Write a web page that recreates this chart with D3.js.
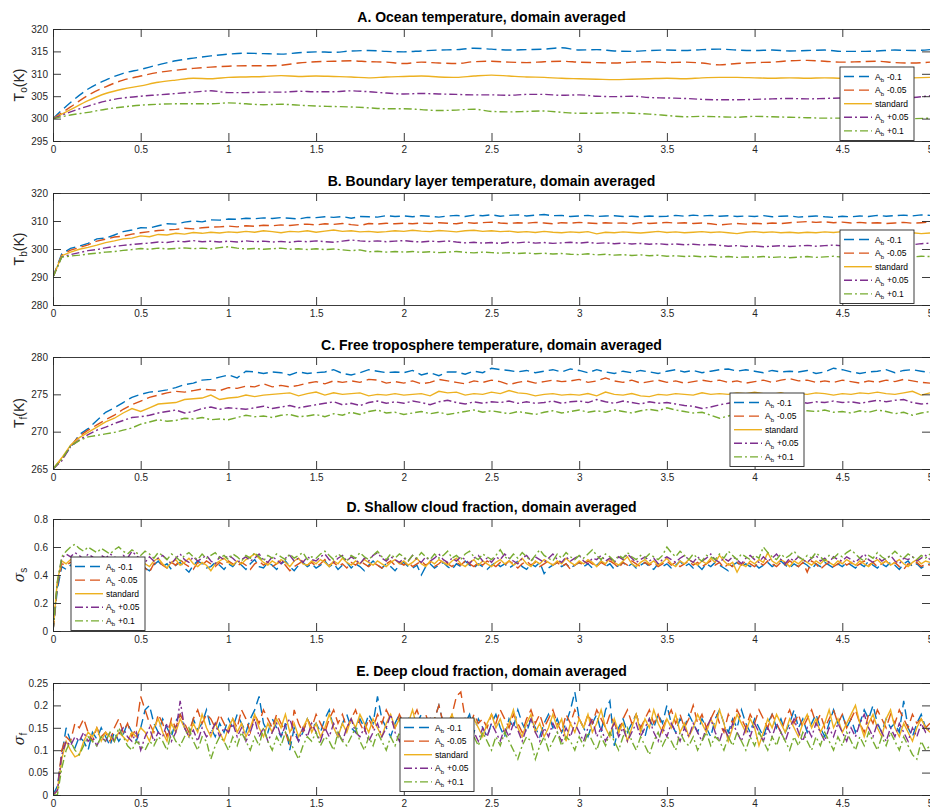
<!DOCTYPE html>
<html>
<head>
<meta charset="utf-8">
<script src="https://cdn.jsdelivr.net/npm/d3@7"></script>
<style>
  body { margin: 0; background: #fff; }
  svg { display: block; font-family: "Liberation Sans", Arial, Helvetica, sans-serif; }
</style>
</head>
<body>
<svg id="chart" width="930" height="808"></svg>
<script>
// ---- data ----
const xTicks = [0, 0.5, 1, 1.5, 2, 2.5, 3, 3.5, 4, 4.5, 5];
const seriesLabels = ["-0.1", "-0.05", "standard", "+0.05", "+0.1"];

const titles = [
  "A. Ocean temperature, domain averaged",
  "B. Boundary layer temperature, domain averaged",
  "C. Free troposphere temperature, domain averaged",
  "D. Shallow cloud fraction, domain averaged",
  "E. Deep cloud fraction, domain averaged"
];
const yTicksA = [295, 300, 305, 310, 315, 320];
const yTicksB = [280, 290, 300, 310, 320];
const yTicksC = [265, 270, 275, 280];
const yTicksD = [0, 0.2, 0.4, 0.6, 0.8];
const yTicksE = [0, 0.05, 0.1, 0.15, 0.2, 0.25];

// sampling step (time units) of each panel's series
const stepA = 0.1, stepB = 0.05, stepC = 0.05, stepD = 0.025, stepE = 0.025;

// A. ocean temperature (K), every 0.1
const oceanM10 = [300.0,303.6,306.6,308.6,310.1,311.0,312.0,312.9,313.5,314.0,
  314.4,314.6,314.5,314.4,314.7,314.9,314.8,315.1,315.2,315.0,
  314.9,315.1,315.3,315.4,315.7,315.5,315.3,315.4,315.5,315.8,
  315.3,315.4,315.1,315.0,315.2,315.3,315.2,315.4,315.5,315.3,
  315.2,315.3,315.1,315.2,315.3,315.0,315.0,315.1,315.3,315.2,315.4];
const oceanM05 = [300.0,302.6,305.2,307.1,308.6,309.5,310.3,310.8,311.2,311.5,
  311.7,311.8,311.8,311.9,312.4,312.7,312.8,312.9,312.7,312.6,
  312.3,312.6,312.4,312.3,312.7,312.8,312.6,312.5,312.7,312.8,
  312.6,312.5,312.4,312.6,312.7,312.5,312.6,312.4,312.0,312.3,
  312.5,312.6,312.9,313.0,312.8,312.6,312.7,312.8,312.5,312.4,312.6];
const oceanStd = [300.0,302.0,304.0,305.6,306.6,307.3,308.1,308.6,309.0,308.9,
  309.2,309.3,309.4,309.6,309.4,309.5,309.4,309.3,309.1,309.3,
  309.4,309.5,309.3,309.2,309.5,309.7,309.5,309.3,309.2,309.0,
  308.9,308.8,308.7,308.8,308.9,309.0,308.9,309.1,309.2,309.2,
  309.1,309.0,309.1,309.0,309.1,309.0,309.1,309.2,309.0,309.1,309.2];
const oceanP05 = [300.0,301.5,302.8,303.9,304.6,305.0,305.3,305.6,305.9,306.2,
  305.8,305.8,305.9,305.9,306.1,306.0,306.0,306.2,306.0,305.7,
  305.5,305.6,305.5,305.4,305.3,305.3,305.2,305.4,305.4,305.2,
  305.3,305.0,304.9,305.0,304.7,304.6,304.5,304.3,304.2,304.2,
  304.3,304.4,304.5,304.4,304.5,304.6,304.5,304.4,304.5,304.7,305.1];
const oceanP10 = [300.0,300.8,301.4,302.1,302.6,303.0,303.2,303.3,303.3,303.3,
  303.5,303.3,303.1,303.2,303.0,302.8,302.7,302.6,302.4,302.2,
  302.2,302.0,301.8,301.9,302.1,301.6,301.5,301.6,301.7,301.4,
  301.2,301.2,301.3,301.2,301.0,300.7,300.4,300.5,300.4,300.3,
  300.5,300.4,300.3,300.2,300.1,300.1,300.0,300.1,300.2,300.0,300.1];

// B. boundary layer temperature (K), every 0.05
const blM10 = [290.0,298.3,300.2,301.0,302.0,303.6,303.9,305.0,306.2,306.8,307.6,307.5,308.3,309.0,308.9,309.6,310.0,309.7,310.4,310.3,
  310.7,310.6,311.0,310.8,311.1,310.9,311.2,311.0,310.7,311.3,311.2,311.5,311.3,311.6,311.0,311.6,311.5,311.4,311.9,311.6,
  311.8,311.5,311.9,311.7,311.4,311.8,312.0,311.6,312.1,311.9,312.2,311.7,312.0,312.2,311.8,312.1,312.3,311.9,312.0,311.6,
  311.8,312.0,311.6,311.8,311.9,311.6,311.7,311.5,311.8,311.6,311.7,312.0,311.7,312.1,311.8,312.0,311.7,311.9,311.6,311.8,
  311.6,311.9,311.5,311.7,311.8,311.4,311.6,311.8,311.5,311.3,311.7,311.5,311.8,311.6,312.0,311.7,311.9,312.1,311.8,312.2,312.0];
const blM05 = [290.0,297.8,299.6,300.5,301.5,302.8,303.5,304.3,304.6,305.3,305.8,306.2,306.6,306.8,307.0,307.4,307.2,307.6,307.8,307.9,
  308.2,307.9,308.3,308.1,308.5,308.3,308.6,308.4,308.7,308.9,308.6,309.0,308.8,309.1,308.7,308.4,309.1,308.9,309.2,309.0,
  309.2,309.0,309.3,309.1,309.4,309.2,309.0,309.5,309.2,309.4,309.6,309.3,309.1,309.4,309.2,309.5,309.3,309.0,309.4,309.2,
  309.5,309.3,309.1,309.4,309.2,309.3,309.0,309.4,309.1,309.3,309.5,309.2,309.4,309.1,309.3,309.0,308.6,308.9,309.1,308.9,
  309.2,309.0,309.3,309.1,309.4,309.6,309.8,309.5,309.7,309.4,309.6,309.3,309.5,309.2,309.4,309.1,309.3,309.5,309.2,309.4,309.6];
const blStd = [290.0,297.6,298.9,299.9,300.6,301.4,302.3,302.9,303.6,303.9,304.7,304.4,305.2,305.0,305.6,305.3,305.9,305.6,306.0,305.7,
  306.1,305.9,306.3,306.0,306.5,306.2,305.8,306.3,306.1,306.5,306.0,306.4,306.8,306.3,306.5,306.1,306.3,306.0,306.2,306.5,
  306.3,306.7,306.4,306.2,306.6,306.4,306.1,306.5,306.7,306.3,306.5,306.2,306.4,306.0,306.2,305.9,306.3,306.0,305.8,306.1,
  305.9,306.2,305.4,306.0,305.8,306.1,305.9,305.7,306.0,306.3,305.9,306.1,305.8,306.0,306.2,305.9,306.1,305.8,305.5,306.0,
  306.2,305.9,306.1,305.8,306.0,305.7,306.0,305.8,306.1,305.9,306.2,305.9,306.1,305.8,306.0,305.7,305.9,305.6,305.8,305.5,305.7];
const blP05 = [290.0,297.2,298.0,298.7,299.4,299.8,300.4,300.9,301.3,301.6,301.9,302.1,302.5,302.3,302.8,302.6,303.0,302.6,302.8,302.5,
  302.8,302.5,302.9,302.6,302.8,302.5,302.7,302.4,302.8,302.6,302.9,302.6,302.4,302.8,303.2,302.9,302.7,302.9,302.6,302.8,
  303.0,302.7,302.5,302.8,302.6,302.9,302.5,302.2,302.4,302.1,302.3,302.0,302.4,302.2,302.5,302.1,302.3,302.0,302.2,302.4,
  302.1,302.4,302.0,302.2,301.9,302.1,301.8,302.0,301.7,301.9,301.6,301.8,301.5,301.7,301.4,301.6,301.3,301.0,301.2,300.9,
  301.1,300.8,301.0,301.2,300.9,301.1,301.3,301.0,301.2,301.4,301.1,301.3,301.0,301.2,301.5,301.3,301.6,301.8,301.5,301.9,302.1];
const blP10 = [290.0,297.1,297.5,297.8,298.2,298.5,298.9,299.1,299.5,299.8,300.2,299.9,300.3,300.0,300.2,300.4,300.1,300.3,300.0,300.5,
  300.8,300.3,300.0,300.2,299.9,300.1,300.3,299.9,300.1,299.8,300.1,299.8,300.0,299.7,299.4,299.7,299.0,299.2,298.9,299.1,
  298.9,299.1,298.8,299.0,298.7,298.9,299.1,298.8,298.6,298.9,298.7,298.5,298.7,298.4,298.6,298.3,298.5,298.2,298.4,298.1,
  298.0,298.3,297.9,298.1,297.8,298.0,297.7,297.9,297.6,297.8,297.4,297.6,297.3,297.5,297.2,297.4,297.1,297.3,297.0,297.2,
  297.1,297.3,297.0,297.2,296.9,297.1,297.3,297.0,297.2,297.4,297.1,297.3,297.0,297.2,297.4,297.1,297.3,297.0,297.2,297.4,297.3];

// C. free troposphere temperature (K), every 0.05
const ftM10 = [265.0,266.4,267.9,269.6,270.4,271.5,272.6,273.2,273.9,274.6,275.0,275.3,275.4,275.6,275.9,276.3,276.5,276.9,277.0,277.3,
  277.6,277.2,278.1,278.0,277.8,278.0,277.9,277.6,278.0,277.8,277.9,278.0,278.3,277.8,277.6,277.9,278.3,278.1,277.9,278.0,
  277.9,278.2,277.6,277.9,277.5,278.0,278.0,277.7,278.1,277.9,278.5,278.3,278.2,278.0,278.2,277.9,278.1,278.3,278.0,278.4,
  278.2,277.9,278.3,278.0,277.8,278.1,277.9,278.2,278.0,277.8,278.1,278.3,278.0,278.2,277.9,278.1,278.3,278.4,278.1,278.3,
  278.1,277.9,278.2,278.0,278.1,278.0,278.2,277.8,278.0,278.5,278.3,278.0,277.8,278.0,278.1,278.3,277.9,278.2,278.3,278.1,277.9];
const ftM05 = [265.0,266.3,268.1,269.4,270.2,270.9,271.6,272.2,273.0,273.6,274.1,274.6,274.9,275.2,275.4,275.3,275.5,275.7,275.6,275.5,
  275.9,275.8,276.1,276.0,276.4,276.0,276.2,276.0,276.2,276.5,276.7,276.4,276.8,276.6,276.8,276.6,277.0,276.9,276.5,276.7,
  276.5,276.8,276.4,276.6,277.0,276.8,276.6,276.4,276.8,276.6,276.9,276.7,276.3,276.6,276.8,276.5,276.7,276.9,276.7,276.8,
  277.0,276.6,276.8,277.2,276.8,276.6,276.9,276.5,276.7,276.9,276.6,276.8,276.5,276.7,276.9,276.7,276.9,276.6,276.8,276.5,
  276.7,276.9,276.6,276.9,277.1,276.8,276.9,276.6,276.8,276.6,276.9,276.7,276.5,276.8,276.6,276.9,276.7,277.0,276.8,276.6,276.5];
const ftStd = [265.0,266.5,268.2,269.2,269.9,270.6,271.3,271.8,272.5,273.1,272.7,273.2,273.7,273.8,273.9,274.3,274.4,274.5,274.9,274.3,
  274.5,274.6,274.9,274.7,274.9,275.0,275.1,275.2,274.8,275.1,275.3,274.9,275.2,275.0,275.1,275.2,274.8,275.0,274.9,275.1,
  274.9,275.0,275.1,274.8,275.4,275.2,275.3,274.9,275.1,275.0,275.3,275.1,275.5,275.2,275.1,274.8,275.0,275.1,274.9,275.0,
  274.9,275.1,274.8,275.3,275.0,274.9,275.1,274.8,274.7,275.0,274.9,275.1,275.0,274.9,275.2,275.0,275.1,275.0,275.2,275.1,
  275.3,275.1,275.0,275.2,274.9,275.1,275.0,275.2,275.1,274.9,275.1,275.0,275.2,275.1,275.3,275.1,275.0,275.2,275.4,274.9,275.2];
const ftP05 = [265.0,266.1,268.0,268.9,269.6,270.2,270.6,271.1,271.5,271.9,272.0,272.2,272.5,272.7,272.9,272.5,272.7,273.1,273.3,273.0,
  273.2,273.1,273.0,273.2,273.4,273.1,273.3,273.5,273.2,273.4,273.6,273.8,274.0,273.6,273.8,273.5,273.9,274.1,273.8,274.0,
  273.8,274.1,273.9,273.6,274.0,274.2,273.9,273.7,274.0,273.8,274.0,273.9,274.1,273.8,274.0,273.8,273.9,274.1,273.8,274.0,
  274.1,273.9,274.3,274.0,273.8,274.1,273.9,273.7,274.0,273.8,273.9,273.7,273.5,273.4,273.1,273.3,273.6,273.8,274.0,273.8,
  273.9,274.1,273.8,274.0,273.9,274.1,273.8,274.0,273.9,274.1,273.9,274.0,273.8,274.0,274.2,274.0,274.2,274.3,273.9,273.7,273.8];
const ftP10 = [265.0,266.3,268.1,268.8,269.3,269.5,269.7,269.9,270.2,270.5,271.0,271.3,271.6,271.4,271.5,271.8,271.7,271.9,271.6,271.7,
  271.6,271.9,272.2,272.0,272.1,271.9,272.2,272.3,272.0,272.1,272.3,272.0,272.4,272.2,272.6,272.3,272.7,272.9,272.5,272.6,
  272.3,272.5,272.7,272.4,272.6,272.3,272.5,272.7,272.9,272.6,272.8,272.6,272.4,272.7,272.5,272.3,272.6,272.8,272.5,272.7,
  272.9,272.6,272.8,272.6,272.9,272.7,272.5,272.8,273.0,272.8,273.2,272.9,272.7,272.5,272.6,272.2,271.8,272.1,272.4,272.6,
  272.8,272.6,272.9,272.7,272.9,272.6,272.8,272.7,272.9,272.6,272.7,272.5,272.8,272.6,272.9,272.7,272.4,272.6,272.2,272.5,272.7];

// D. shallow cloud fraction, every 0.025
const scM10 = [0,.30,.46,.44,.47,.45,.49,.46,.43,.48,.47,.50,.46,.45,.48,.51,.47,.44,.49,.46,
  .48,.45,.43,.47,.50,.46,.48,.44,.47,.49,.45,.42,.47,.50,.48,.45,.46,.49,.47,.44,
  .48,.46,.50,.47,.44,.48,.51,.46,.45,.49,.47,.44,.48,.50,.46,.43,.47,.49,.46,.48,
  .45,.47,.50,.46,.48,.44,.47,.49,.45,.48,.46,.43,.47,.50,.47,.45,.48,.46,.43,.47,
  .49,.46,.45,.47,.40,.46,.48,.45,.47,.49,.46,.44,.48,.46,.50,.47,.45,.48,.46,.44,
  .47,.49,.46,.48,.45,.47,.50,.46,.44,.48,.46,.49,.41,.45,.47,.49,.46,.48,.45,.47,
  .49,.46,.48,.45,.47,.50,.46,.48,.44,.47,.49,.46,.48,.45,.47,.49,.46,.44,.48,.46,
  .48,.45,.47,.50,.46,.48,.45,.47,.44,.48,.46,.49,.47,.45,.43,.47,.49,.46,.48,.46,
  .48,.45,.47,.49,.46,.48,.50,.47,.45,.48,.46,.49,.47,.44,.48,.46,.49,.47,.45,.48,
  .46,.49,.47,.45,.48,.46,.50,.47,.45,.48,.46,.49,.47,.44,.48,.50,.46,.48,.45,.47,.48];
const scM05 = [0,.33,.48,.47,.49,.50,.48,.46,.50,.49,.47,.51,.48,.46,.49,.47,.50,.48,.46,.49,
  .47,.45,.42,.48,.50,.47,.45,.49,.47,.51,.48,.46,.44,.49,.47,.50,.48,.46,.49,.47,
  .50,.48,.46,.49,.47,.44,.48,.50,.47,.49,.46,.48,.50,.47,.43,.46,.48,.50,.47,.49,
  .46,.48,.51,.47,.49,.46,.48,.45,.49,.47,.50,.48,.46,.49,.47,.45,.48,.50,.47,.49,
  .47,.49,.46,.48,.50,.47,.49,.46,.48,.51,.48,.46,.49,.47,.50,.48,.46,.49,.47,.50,
  .48,.46,.49,.47,.50,.48,.45,.48,.50,.47,.49,.46,.48,.50,.47,.49,.46,.48,.44,.47,
  .49,.47,.50,.48,.46,.49,.47,.50,.48,.45,.49,.47,.50,.48,.46,.49,.47,.49,.46,.48,
  .50,.47,.49,.46,.48,.50,.47,.49,.46,.48,.50,.47,.49,.45,.48,.46,.49,.47,.50,.48,
  .46,.49,.47,.50,.48,.46,.49,.47,.50,.48,.46,.49,.42,.50,.48,.44,.47,.49,.46,.48,
  .50,.47,.49,.46,.48,.50,.47,.49,.46,.48,.50,.47,.49,.46,.44,.48,.47,.49,.46,.48,.47];
const scStd = [0,.36,.50,.48,.51,.49,.47,.50,.52,.49,.47,.50,.48,.51,.49,.47,.50,.48,.46,.49,
  .51,.48,.46,.50,.52,.48,.45,.49,.51,.47,.49,.52,.48,.46,.49,.47,.43,.48,.50,.52,
  .49,.47,.50,.48,.51,.53,.55,.52,.49,.47,.50,.48,.51,.49,.46,.50,.52,.48,.47,.50,
  .48,.51,.49,.46,.50,.48,.52,.49,.47,.50,.48,.51,.49,.47,.50,.48,.46,.49,.51,.48,
  .50,.47,.49,.52,.48,.46,.50,.48,.51,.49,.47,.50,.52,.48,.46,.49,.51,.47,.50,.48,
  .46,.49,.51,.48,.50,.47,.49,.52,.48,.46,.50,.48,.51,.49,.47,.50,.48,.52,.49,.47,
  .50,.48,.51,.49,.46,.50,.48,.52,.49,.47,.50,.53,.48,.46,.49,.51,.48,.50,.47,.49,
  .52,.48,.46,.50,.48,.51,.49,.47,.50,.48,.52,.49,.54,.50,.47,.49,.42,.48,.46,.50,
  .48,.51,.49,.56,.50,.48,.51,.49,.46,.50,.48,.51,.49,.47,.50,.48,.51,.49,.47,.50,
  .48,.51,.49,.47,.50,.48,.46,.49,.51,.48,.50,.47,.49,.51,.48,.46,.49,.51,.48,.50,.49];
const scP05 = [0,.34,.52,.55,.53,.56,.54,.51,.55,.53,.50,.54,.52,.55,.53,.51,.54,.52,.57,.54,
  .51,.49,.53,.50,.52,.54,.51,.48,.52,.55,.51,.49,.53,.50,.52,.54,.50,.48,.53,.51,
  .54,.52,.49,.51,.53,.50,.52,.55,.51,.49,.53,.51,.48,.52,.54,.50,.52,.49,.53,.51,
  .50,.53,.55,.51,.49,.52,.54,.50,.53,.51,.48,.52,.50,.54,.56,.52,.50,.53,.51,.49,
  .52,.50,.54,.51,.49,.53,.50,.52,.55,.51,.49,.52,.50,.53,.51,.48,.52,.54,.50,.52,
  .49,.53,.51,.55,.52,.50,.48,.52,.54,.50,.53,.51,.49,.52,.55,.51,.49,.53,.50,.52,
  .54,.50,.48,.52,.51,.54,.50,.52,.49,.53,.51,.55,.52,.49,.51,.53,.50,.52,.48,.51,
  .53,.51,.49,.52,.54,.51,.49,.53,.50,.52,.55,.51,.49,.52,.50,.53,.51,.48,.52,.54,
  .51,.49,.53,.50,.52,.55,.51,.48,.52,.50,.53,.51,.49,.52,.54,.50,.52,.49,.53,.51,
  .50,.53,.51,.49,.52,.55,.51,.49,.53,.50,.52,.54,.50,.48,.52,.51,.53,.50,.52,.54,.51];
const scP10 = [0,.35,.53,.57,.60,.62,.59,.57,.60,.58,.56,.59,.57,.55,.58,.60,.57,.55,.58,.56,
  .54,.57,.55,.52,.56,.54,.51,.55,.53,.50,.54,.56,.53,.51,.55,.52,.54,.56,.52,.54,
  .51,.55,.53,.50,.54,.52,.56,.53,.50,.54,.52,.55,.53,.51,.55,.52,.54,.56,.51,.53,
  .52,.55,.57,.54,.51,.55,.53,.50,.54,.52,.56,.53,.51,.54,.57,.53,.51,.55,.52,.55,
  .53,.50,.54,.52,.56,.53,.51,.55,.52,.54,.57,.52,.54,.51,.55,.57,.53,.51,.55,.53,
  .51,.54,.58,.53,.51,.55,.52,.56,.53,.50,.54,.58,.54,.52,.50,.55,.52,.56,.53,.51,
  .54,.52,.55,.58,.54,.51,.55,.53,.50,.54,.52,.56,.53,.51,.54,.52,.55,.53,.51,.54,
  .60,.56,.53,.57,.54,.51,.55,.52,.50,.54,.53,.51,.55,.52,.57,.54,.51,.55,.53,.51,
  .54,.52,.60,.56,.53,.51,.55,.52,.54,.57,.53,.51,.54,.52,.56,.53,.50,.54,.52,.55,
  .53,.56,.58,.55,.52,.50,.54,.52,.56,.53,.51,.54,.57,.54,.52,.55,.53,.51,.54,.52,.55];

// E. deep cloud fraction, every 0.025
const dcM10 = [0,.02,.09,.15,.12,.105,.13,.12,.10,.14,.125,.15,.13,.11,.14,.12,.135,.16,.14,.12,
  .15,.19,.20,.16,.14,.17,.15,.13,.165,.18,.15,.13,.17,.145,.16,.19,.15,.13,.16,.14,
  .17,.15,.18,.16,.14,.17,.19,.22,.16,.14,.17,.15,.13,.16,.10,.15,.12,.14,.17,.15,
  .16,.14,.17,.19,.15,.13,.16,.18,.15,.14,.17,.15,.18,.16,.22,.17,.15,.13,.16,.18,
  .15,.17,.14,.16,.18,.15,.13,.17,.20,.16,.14,.17,.15,.13,.16,.18,.14,.17,.15,.13,
  .16,.18,.15,.13,.17,.15,.19,.16,.14,.17,.15,.13,.16,.18,.15,.17,.14,.16,.19,.23,
  .17,.15,.13,.16,.18,.14,.19,.21,.11,.15,.17,.14,.16,.18,.15,.13,.17,.15,.18,.16,
  .20,.16,.14,.17,.15,.18,.16,.14,.17,.15,.13,.17,.19,.16,.14,.17,.15,.19,.16,.14,
  .17,.15,.13,.16,.18,.15,.17,.14,.16,.19,.15,.17,.14,.16,.18,.15,.13,.16,.19,.16,
  .18,.15,.17,.14,.16,.19,.17,.20,.16,.14,.17,.15,.16,.14,.21,.15,.13,.16,.18,.15,.14];
const dcM05 = [0,.01,.10,.13,.12,.16,.15,.17,.14,.12,.15,.13,.14,.12,.15,.17,.14,.16,.13,.15,
  .22,.19,.16,.14,.18,.16,.13,.17,.15,.18,.16,.14,.17,.19,.16,.18,.17,.15,.18,.16,
  .14,.17,.15,.19,.17,.14,.18,.16,.19,.17,.15,.18,.16,.14,.11,.19,.16,.14,.17,.15,
  .18,.16,.14,.17,.19,.16,.18,.15,.17,.19,.16,.14,.17,.15,.18,.16,.19,.17,.15,.18,
  .16,.14,.17,.19,.16,.18,.15,.17,.20,.16,.14,.18,.22,.23,.17,.15,.18,.16,.17,.15,
  .18,.16,.19,.17,.15,.18,.16,.14,.17,.19,.16,.18,.15,.17,.19,.16,.14,.18,.16,.19,
  .17,.15,.18,.16,.19,.17,.15,.18,.16,.14,.17,.19,.16,.18,.15,.17,.19,.16,.18,.15,
  .17,.19,.16,.18,.15,.17,.20,.16,.18,.15,.17,.19,.16,.14,.18,.16,.19,.17,.15,.18,
  .16,.19,.17,.15,.18,.16,.14,.17,.19,.16,.18,.15,.17,.19,.16,.18,.15,.17,.19,.16,
  .18,.15,.17,.19,.16,.14,.18,.16,.19,.17,.15,.18,.16,.19,.17,.15,.18,.16,.17,.15,.16];
const dcStd = [0,.01,.08,.12,.10,.085,.09,.12,.14,.13,.15,.12,.14,.13,.12,.14,.13,.12,.14,.13,
  .15,.14,.12,.15,.17,.14,.12,.16,.14,.17,.15,.13,.16,.14,.18,.15,.13,.16,.14,.12,
  .15,.17,.14,.16,.13,.15,.18,.15,.13,.16,.14,.17,.15,.18,.14,.16,.13,.15,.17,.14,
  .16,.13,.15,.18,.15,.13,.16,.14,.17,.15,.18,.16,.14,.17,.15,.13,.16,.18,.15,.17,
  .14,.16,.19,.15,.13,.16,.14,.17,.15,.13,.16,.18,.15,.13,.16,.14,.17,.15,.13,.16,
  .18,.15,.17,.14,.16,.19,.15,.13,.16,.18,.14,.16,.13,.15,.18,.15,.17,.12,.16,.14,
  .17,.15,.18,.14,.16,.19,.15,.13,.17,.14,.16,.12,.15,.18,.14,.17,.15,.19,.16,.14,
  .17,.15,.18,.14,.16,.13,.15,.18,.16,.14,.17,.15,.19,.16,.12,.15,.18,.16,.14,.17,
  .15,.11,.14,.17,.15,.18,.16,.14,.17,.15,.13,.16,.18,.15,.17,.14,.16,.19,.15,.17,
  .14,.16,.18,.20,.16,.13,.16,.18,.15,.13,.17,.19,.15,.13,.16,.14,.12,.15,.17,.15,.14];
const dcP05 = [0,.01,.09,.12,.11,.13,.12,.14,.12,.13,.11,.13,.12,.14,.12,.135,.15,.13,.12,.14,
  .10,.13,.15,.12,.14,.13,.16,.12,.14,.21,.15,.13,.145,.12,.15,.13,.14,.16,.13,.15,
  .14,.16,.13,.15,.12,.14,.17,.13,.15,.12,.14,.16,.13,.155,.17,.14,.12,.15,.13,.16,
  .14,.12,.15,.13,.16,.14,.12,.15,.17,.14,.13,.15,.12,.14,.16,.13,.15,.18,.14,.12,
  .15,.13,.16,.14,.12,.15,.17,.14,.13,.15,.12,.14,.165,.13,.15,.17,.14,.12,.15,.13,
  .16,.14,.12,.15,.13,.16,.145,.12,.15,.17,.14,.12,.15,.13,.16,.14,.12,.15,.13,.16,
  .14,.12,.15,.17,.13,.15,.12,.14,.16,.13,.15,.12,.14,.16,.13,.15,.17,.14,.12,.15,
  .13,.16,.14,.12,.15,.13,.16,.14,.12,.15,.17,.14,.12,.15,.13,.16,.14,.12,.15,.13,
  .16,.14,.12,.15,.13,.16,.14,.12,.15,.17,.14,.12,.15,.13,.16,.14,.12,.15,.13,.16,
  .14,.12,.15,.13,.16,.18,.15,.13,.16,.14,.12,.15,.13,.16,.14,.12,.15,.13,.16,.14,.15];
const dcP10 = [0,.00,.06,.10,.12,.10,.09,.11,.13,.12,.11,.13,.12,.14,.12,.15,.13,.11,.10,.12,
  .11,.10,.12,.11,.13,.12,.10,.14,.12,.11,.13,.15,.12,.10,.13,.12,.08,.11,.13,.12,
  .10,.13,.11,.14,.12,.10,.13,.11,.15,.12,.10,.13,.11,.14,.12,.10,.08,.11,.13,.12,
  .14,.11,.13,.12,.10,.14,.12,.11,.13,.15,.12,.10,.13,.11,.14,.12,.10,.13,.11,.14,
  .12,.10,.13,.11,.14,.12,.10,.13,.15,.12,.10,.13,.11,.14,.12,.10,.13,.11,.14,.12,
  .10,.13,.11,.14,.12,.10,.08,.11,.13,.12,.08,.11,.13,.10,.12,.14,.11,.13,.12,.10,
  .13,.11,.14,.12,.10,.13,.11,.14,.12,.10,.13,.15,.12,.10,.13,.11,.09,.12,.14,.11,
  .13,.12,.10,.14,.12,.11,.13,.10,.12,.14,.11,.13,.12,.10,.13,.11,.14,.12,.10,.13,
  .11,.14,.12,.10,.13,.11,.14,.12,.10,.13,.11,.14,.12,.10,.13,.11,.14,.12,.10,.13,
  .11,.14,.12,.10,.13,.11,.14,.12,.10,.13,.11,.14,.12,.10,.13,.11,.09,.08,.12,.10,.11];

// ---- styles / layout ----
const colors = ["#0072BD", "#D95319", "#EDB120", "#7E2F8E", "#77AC30"];
const dashes = ["10,5", "10,5", null, "8,3,2,3", "8,3,2,3"];
const plotLeft = 53, plotRight = 930, plotH = 112;
const panelTops = [29, 193, 357, 519, 683];
const axisColor = "#262626";
const lineW = 1.4;

const panels = [
  { title: titles[0], ticks: yTicksA, step: stepA, series: [oceanM10, oceanM05, oceanStd, oceanP05, oceanP10],
    label: ["T", "o", "(K)"], italic: false, legend: [787, 38], curve: d3.curveMonotoneX },
  { title: titles[1], ticks: yTicksB, step: stepB, series: [blM10, blM05, blStd, blP05, blP10],
    label: ["T", "b", "(K)"], italic: false, legend: [787, 37], curve: d3.curveLinear },
  { title: titles[2], ticks: yTicksC, step: stepC, series: [ftM10, ftM05, ftStd, ftP05, ftP10],
    label: ["T", "f", "(K)"], italic: false, legend: [677, 36], curve: d3.curveLinear },
  { title: titles[3], ticks: yTicksD, step: stepD, series: [scM10, scM05, scStd, scP05, scP10],
    label: ["σ", "s", ""], italic: true, legend: [18, 38], curve: d3.curveLinear },
  { title: titles[4], ticks: yTicksE, step: stepE, series: [dcM10, dcM05, dcStd, dcP05, dcP10],
    label: ["σ", "f", ""], italic: true, legend: [347, 35], curve: d3.curveLinear }
];

const svg = d3.select("#chart");
const x = d3.scaleLinear().domain([0, 5]).range([plotLeft, plotRight]);

function styleAxis(g) {
  g.attr("color", axisColor).attr("font-size", 10)
    .attr("font-family", "'Liberation Sans', Arial, sans-serif");
  g.selectAll("line, path").attr("stroke-width", 0.9);
  g.selectAll("text").attr("fill", axisColor);
}

panels.forEach((p, k) => {
  const top = panelTops[k], bottom = top + plotH;
  const y = d3.scaleLinear().domain(d3.extent(p.ticks)).range([bottom, top]);

  svg.append("clipPath").attr("id", "clip" + k)
    .append("rect").attr("x", plotLeft).attr("y", top)
    .attr("width", plotRight - plotLeft).attr("height", plotH);

  const line = d3.line().curve(p.curve)
    .x((d, i) => x(i * p.step))
    .y(d => y(d));

  svg.append("g").attr("clip-path", `url(#clip${k})`)
    .attr("fill", "none").attr("stroke-width", lineW)
    .selectAll("path").data(p.series).join("path")
    .attr("d", d => line(d))
    .attr("stroke", (d, i) => colors[i])
    .attr("stroke-dasharray", (d, i) => dashes[i]);

  // box with inward ticks on all four sides
  svg.append("g").attr("transform", `translate(0,${bottom})`)
    .call(d3.axisBottom(x).tickValues(xTicks).tickFormat(d => String(d))
      .tickSizeInner(-8).tickSizeOuter(0).tickPadding(5))
    .call(styleAxis);
  svg.append("g").attr("transform", `translate(0,${top})`)
    .call(d3.axisTop(x).tickValues(xTicks).tickFormat("")
      .tickSizeInner(-8).tickSizeOuter(0))
    .call(styleAxis);
  svg.append("g").attr("transform", `translate(${plotLeft},0)`)
    .call(d3.axisLeft(y).tickValues(p.ticks).tickFormat(d => String(d))
      .tickSizeInner(-8).tickSizeOuter(0).tickPadding(5))
    .call(styleAxis);
  svg.append("g").attr("transform", `translate(${plotRight},0)`)
    .call(d3.axisRight(y).tickValues(p.ticks).tickFormat("")
      .tickSizeInner(-8).tickSizeOuter(0))
    .call(styleAxis);

  // title
  svg.append("text")
    .attr("x", (plotLeft + plotRight) / 2).attr("y", top - 7.5)
    .attr("text-anchor", "middle").attr("font-size", 14).attr("font-weight", "bold")
    .attr("fill", "#000").text(p.title);

  // y label
  const yl = svg.append("text")
    .attr("transform", `translate(24,${(top + bottom) / 2}) rotate(-90)`)
    .attr("text-anchor", "middle").attr("font-size", 14).attr("fill", axisColor);
  yl.append("tspan").attr("font-style", p.italic ? "italic" : null)
    .attr("font-family", p.italic ? "'DejaVu Serif', serif" : null).text(p.label[0]);
  yl.append("tspan").attr("font-size", 10).attr("dy", 3).text(p.label[1]);
  if (p.label[2]) yl.append("tspan").attr("dy", -3).text(p.label[2]);

  // legend
  const lg = svg.append("g")
    .attr("transform", `translate(${plotLeft + p.legend[0]},${top + p.legend[1]})`);
  lg.append("rect").attr("width", 74).attr("height", 73.5)
    .attr("fill", "#fff").attr("stroke", axisColor).attr("stroke-width", 0.9);
  seriesLabels.forEach((lab, i) => {
    const yy = 9.5 + i * 13.6;
    lg.append("line").attr("x1", 4).attr("x2", 32).attr("y1", yy).attr("y2", yy)
      .attr("stroke", colors[i]).attr("stroke-width", lineW)
      .attr("stroke-dasharray", dashes[i]);
    const t = lg.append("text").attr("x", 35).attr("y", yy + 3)
      .attr("font-size", 8.5).attr("fill", "#000");
    if (i === 2) {
      t.text(lab);
    } else {
      t.append("tspan").text("A");
      t.append("tspan").attr("dy", 2.5).attr("font-size", 6).text("b");
      t.append("tspan").attr("dy", -2.5).attr("dx", 3).text(lab);
    }
  });
});
</script>
</body>
</html>
